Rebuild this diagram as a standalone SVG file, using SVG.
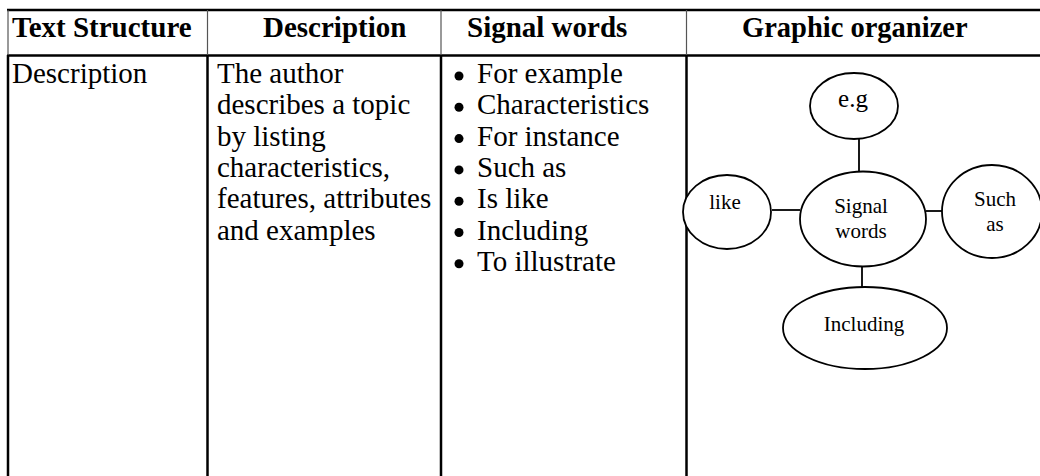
<svg xmlns="http://www.w3.org/2000/svg" width="1040" height="476" viewBox="0 0 1040 476">
  <style>
    .bg { fill: #ffffff; }
    .rule { stroke: #000000; stroke-width: 2.5; fill: none; }
    .rule-thin { stroke: #555555; stroke-width: 1.2; fill: none; }
    .head { font-family: "Liberation Serif", "Times New Roman", serif; font-weight: bold; font-size: 29px; fill: #000000; }
    .cell { font-family: "Liberation Serif", "Times New Roman", serif; font-size: 29px; fill: #000000; }
    .bullet { fill: #000000; }
    .bubble { fill: #ffffff; stroke: #000000; stroke-width: 1.8; }
    .label { font-family: "Liberation Serif", "Times New Roman", serif; font-size: 21px; fill: #000000; text-anchor: middle; }
    .link { stroke: #000000; stroke-width: 1.8; fill: none; }
  </style>

  <rect class="bg" x="0" y="0" width="1040" height="476"/>

  <!-- table grid -->
  <g id="table-grid">
    <line class="rule" x1="7" y1="10" x2="1040" y2="10"/>
    <line class="rule" x1="7" y1="55.5" x2="1040" y2="55.5"/>
    <!-- header row dividers -->
    <line class="rule-thin" x1="8" y1="10" x2="8" y2="55"/>
    <line class="rule-thin" x1="207.5" y1="10" x2="207.5" y2="55"/>
    <line class="rule-thin" x1="441" y1="10" x2="441" y2="55"/>
    <line class="rule-thin" x1="686.5" y1="10" x2="686.5" y2="55"/>
    <!-- body row dividers -->
    <line class="rule" x1="8" y1="55" x2="8" y2="476"/>
    <line class="rule" x1="207.5" y1="55" x2="207.5" y2="476"/>
    <line class="rule" x1="441" y1="55" x2="441" y2="476"/>
    <line class="rule" x1="686.5" y1="55" x2="686.5" y2="476"/>
  </g>

  <!-- header row -->
  <g id="header">
    <text class="head" x="12" y="37">Text Structure</text>
    <text class="head" x="263" y="37">Description</text>
    <text class="head" x="467" y="37">Signal words</text>
    <text class="head" x="742" y="37" style="font-size:28.5px">Graphic organizer</text>
  </g>

  <!-- body: first column -->
  <g id="structure-cell">
    <text class="cell" x="12" y="83">Description</text>
  </g>

  <!-- body: description column -->
  <g id="description-cell">
    <text class="cell" x="217" y="83">The author</text>
    <text class="cell" x="217" y="114.3">describes a topic</text>
    <text class="cell" x="217" y="145.6">by listing</text>
    <text class="cell" x="217" y="176.9">characteristics,</text>
    <text class="cell" x="217" y="208.2">features, attributes</text>
    <text class="cell" x="217" y="239.5">and examples</text>
  </g>

  <!-- body: signal words list -->
  <g id="signal-words-cell">
    <circle class="bullet" cx="459" cy="76" r="4.5"/>
    <text class="cell" x="477" y="83">For example</text>
    <circle class="bullet" cx="459" cy="107.3" r="4.5"/>
    <text class="cell" x="477" y="114.3">Characteristics</text>
    <circle class="bullet" cx="459" cy="138.6" r="4.5"/>
    <text class="cell" x="477" y="145.6">For instance</text>
    <circle class="bullet" cx="459" cy="169.9" r="4.5"/>
    <text class="cell" x="477" y="176.9">Such as</text>
    <circle class="bullet" cx="459" cy="201.2" r="4.5"/>
    <text class="cell" x="477" y="208.2">Is like</text>
    <circle class="bullet" cx="459" cy="232.5" r="4.5"/>
    <text class="cell" x="477" y="239.5">Including</text>
    <circle class="bullet" cx="459" cy="263.8" r="4.5"/>
    <text class="cell" x="477" y="270.8">To illustrate</text>
  </g>

  <!-- graphic organizer: connectors -->
  <g id="connectors">
    <line class="link" x1="859" y1="139" x2="859" y2="171.5"/>
    <line class="link" x1="772" y1="210" x2="800" y2="210"/>
    <line class="link" x1="926" y1="211" x2="943" y2="211"/>
    <line class="link" x1="862" y1="266.5" x2="862" y2="287"/>
  </g>

  <!-- graphic organizer: nodes -->
  <g id="node-eg">
    <ellipse class="bubble" cx="854" cy="106" rx="44" ry="33"/>
    <text class="label" x="853" y="107" style="font-size:25px">e.g</text>
  </g>
  <g id="node-signal-words">
    <ellipse class="bubble" cx="863" cy="219" rx="63" ry="47.5"/>
    <text class="label" x="861" y="213">Signal</text>
    <text class="label" x="861" y="238">words</text>
  </g>
  <g id="node-like">
    <ellipse class="bubble" cx="727" cy="212" rx="44" ry="37"/>
    <text class="label" x="725" y="209">like</text>
  </g>
  <g id="node-such-as">
    <ellipse class="bubble" cx="992" cy="211.5" rx="50" ry="46.5"/>
    <text class="label" x="995" y="205.5">Such</text>
    <text class="label" x="995" y="231">as</text>
  </g>
  <g id="node-including">
    <ellipse class="bubble" cx="865" cy="328" rx="82" ry="41"/>
    <text class="label" x="864" y="331">Including</text>
  </g>
</svg>
